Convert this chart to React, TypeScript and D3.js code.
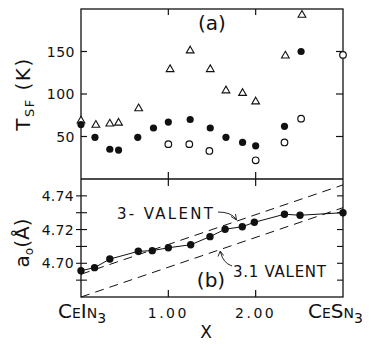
import React from "react";
import * as d3 from "d3";

// ---- data (panel a: spin-fluctuation temperature, K) ----
const filledX = [0, 0.16, 0.33, 0.43, 0.65, 0.83, 1.0, 1.25, 1.48, 1.66, 1.85, 2.0, 2.33, 2.52];
const filledT = [64, 49, 35, 34, 49, 60, 67, 70, 60, 49, 43, 39, 62, 150];
const triX = [0, 0.17, 0.33, 0.43, 0.66, 1.02, 1.25, 1.48, 1.66, 1.85, 2.0, 2.34, 2.53];
const triT = [68.5, 63.5, 65, 66, 83, 129, 151, 129, 104, 101, 91, 145, 193];
const openX = [1.0, 1.24, 1.47, 2.0, 2.33, 2.52, 3.0];
const openT = [41, 41, 33, 22, 43, 71, 146];

// ---- data (panel b: lattice constant, Å) ----
const latX = [0, 0.155, 0.33, 0.656, 0.816, 1.0, 1.256, 1.477, 1.65, 1.847, 1.985, 2.33, 2.508, 3.0];
const latA = [4.6956, 4.6974, 4.7025, 4.7071, 4.7075, 4.7092, 4.711, 4.7158, 4.7202, 4.7217, 4.7243, 4.7291, 4.7285, 4.73];
const vegardX = [0, 3];
const vegard3A = [4.6935, 4.7465];
const vegard31A = [4.68, 4.733];

const topTicks = [50, 100, 150];
const botMajor = [4.7, 4.72, 4.74];
const botMinor = [4.69, 4.7, 4.71, 4.72, 4.73, 4.74];
const xTicks = [1, 2];
const xTickLabels = ["1.00", "2.00"];

const FONT = "DejaVu Sans, sans-serif";
const INK = "#111";

export default function App() {
  const x = d3.scaleLinear().domain([0, 3]).range([81, 343]);
  const yT = d3.scaleLinear().domain([0, 200]).range([179, 9]);
  const yB = d3.scaleLinear().domain([4.68, 4.75]).range([297, 179]);

  const tri = d3.symbol(d3.symbolTriangle, 26)() as string;
  const latLine = d3
    .line<number>()
    .x((_, i) => x(latX[i]))
    .y((d) => yB(d))(latA) as string;
  const v3 = d3.line<number>().x((_, i) => x(vegardX[i])).y((d) => yB(d))(vegard3A) as string;
  const v31 = d3.line<number>().x((_, i) => x(vegardX[i])).y((d) => yB(d))(vegard31A) as string;

  const L = x(0), R = x(3);
  const top = yT(200), mid = yT(0), bot = yB(4.68);

  return (
    <svg
      width={371}
      height={344}
      style={{ position: "absolute", left: 0, top: 0, background: "#fff" }}
      fontFamily={FONT}
    >
      <rect x={0} y={0} width={371} height={344} fill="#fff" />
      {/* frame */}
      <rect x={L} y={top} width={R - L} height={bot - top} fill="none" stroke={INK} strokeWidth={1.3} />
      <line x1={L} x2={R} y1={mid} y2={mid} stroke={INK} strokeWidth={1.3} />

      {/* x ticks */}
      {xTicks.map((t) => (
        <g key={"xt" + t} stroke={INK} strokeWidth={1.2}>
          <line x1={x(t)} x2={x(t)} y1={top} y2={top + 6} />
          <line x1={x(t)} x2={x(t)} y1={mid - 7} y2={mid + 7} />
          <line x1={x(t)} x2={x(t)} y1={bot} y2={bot - 7} />
        </g>
      ))}

      {/* top panel y ticks */}
      {topTicks.map((t) => (
        <g key={"tt" + t}>
          <line x1={L} x2={L + 6} y1={yT(t)} y2={yT(t)} stroke={INK} strokeWidth={1.2} />
          <line x1={R} x2={R - 7} y1={yT(t)} y2={yT(t)} stroke={INK} strokeWidth={1.2} />
          <text x={75} y={yT(t) + 5} textAnchor="end" fontSize={14} fill={INK} letterSpacing={0.5}>
            {t}
          </text>
        </g>
      ))}

      {/* bottom panel y ticks */}
      {botMinor.map((t) => (
        <g key={"bm" + t} stroke={INK} strokeWidth={1.1}>
          <line x1={L - 5} x2={L + 6} y1={yB(t)} y2={yB(t)} />
          <line x1={R} x2={R - 6} y1={yB(t)} y2={yB(t)} />
        </g>
      ))}
      {botMajor.map((t) => (
        <text key={"bl" + t} x={74} y={yB(t) + 5} textAnchor="end" fontSize={14} fill={INK} letterSpacing={0.3}>
          {t.toFixed(2)}
        </text>
      ))}

      {/* x tick labels */}
      {xTicks.map((t, i) => (
        <text key={"xl" + t} x={x(t)} y={318} textAnchor="middle" fontSize={14} fill={INK} letterSpacing={2.5}>
          {xTickLabels[i]}
        </text>
      ))}
      <text x={x(0) - 23} y={318} fontSize={20} fill={INK} style={{ fontVariant: "small-caps" }}>
        CeIn<tspan dy={5} fontSize={14}>3</tspan>
      </text>
      <text x={x(3) - 35} y={318} fontSize={20} fill={INK} style={{ fontVariant: "small-caps" }}>
        CeSn<tspan dy={5} fontSize={14}>3</tspan>
      </text>
      <text x={206} y={338} textAnchor="middle" fontSize={17} fill={INK}>
        X
      </text>

      {/* axis titles */}
      <text transform="translate(30,94) rotate(-90)" textAnchor="middle" fontSize={20} fill={INK} letterSpacing={1.5}>
        T<tspan dy={4} fontSize={13}>SF</tspan>
        <tspan dy={-4}> (K)</tspan>
      </text>
      <text transform="translate(29,243) rotate(-90)" textAnchor="middle" fontSize={20} fill={INK}>
        a<tspan dy={4} fontSize={12}>o</tspan>
        <tspan dy={-4}>(Å)</tspan>
      </text>

      {/* panel labels */}
      <text x={212} y={30} textAnchor="middle" fontSize={20} fill={INK}>(a)</text>
      <text x={211} y={287} textAnchor="middle" fontSize={20} fill={INK}>(b)</text>

      {/* panel a markers */}
      {triX.map((d, i) => (
        <path key={"tr" + i} d={tri} transform={`translate(${x(d)},${yT(triT[i])})`} fill="#fff" stroke={INK} strokeWidth={1.1} />
      ))}
      {openX.map((d, i) => (
        <circle key={"oc" + i} cx={x(d)} cy={yT(openT[i])} r={3.3} fill="#fff" stroke={INK} strokeWidth={1.2} />
      ))}
      {filledX.map((d, i) => (
        <circle key={"fc" + i} cx={x(d)} cy={yT(filledT[i])} r={3.6} fill={INK} />
      ))}

      {/* panel b lines */}
      <path d={v3} fill="none" stroke={INK} strokeWidth={1} strokeDasharray="9,6" />
      <path d={v31} fill="none" stroke={INK} strokeWidth={1} strokeDasharray="9,6" />
      <path d={latLine} fill="none" stroke={INK} strokeWidth={1} />
      {latX.map((d, i) => (
        <circle key={"lc" + i} cx={x(d)} cy={yB(latA[i])} r={3.7} fill={INK} />
      ))}

      {/* annotations */}
      <text x={117} y={219} fontSize={15} fill={INK} textLength={96} lengthAdjust="spacing">
        3- VALENT
      </text>
      <text x={233} y={277} fontSize={15} fill={INK} textLength={93} lengthAdjust="spacing">
        3.1 VALENT
      </text>
      <path d="M218,212 Q231,212 236,219" fill="none" stroke={INK} strokeWidth={0.9} />
      <path d="M231,216.5 L236.5,220 L235.5,214" fill="none" stroke={INK} strokeWidth={0.9} />
      <path d="M232,266 Q223,263 220.5,252" fill="none" stroke={INK} strokeWidth={0.9} />
      <path d="M218,256.5 L220.2,251 L223.5,255.5" fill="none" stroke={INK} strokeWidth={0.9} />
    </svg>
  );
}
